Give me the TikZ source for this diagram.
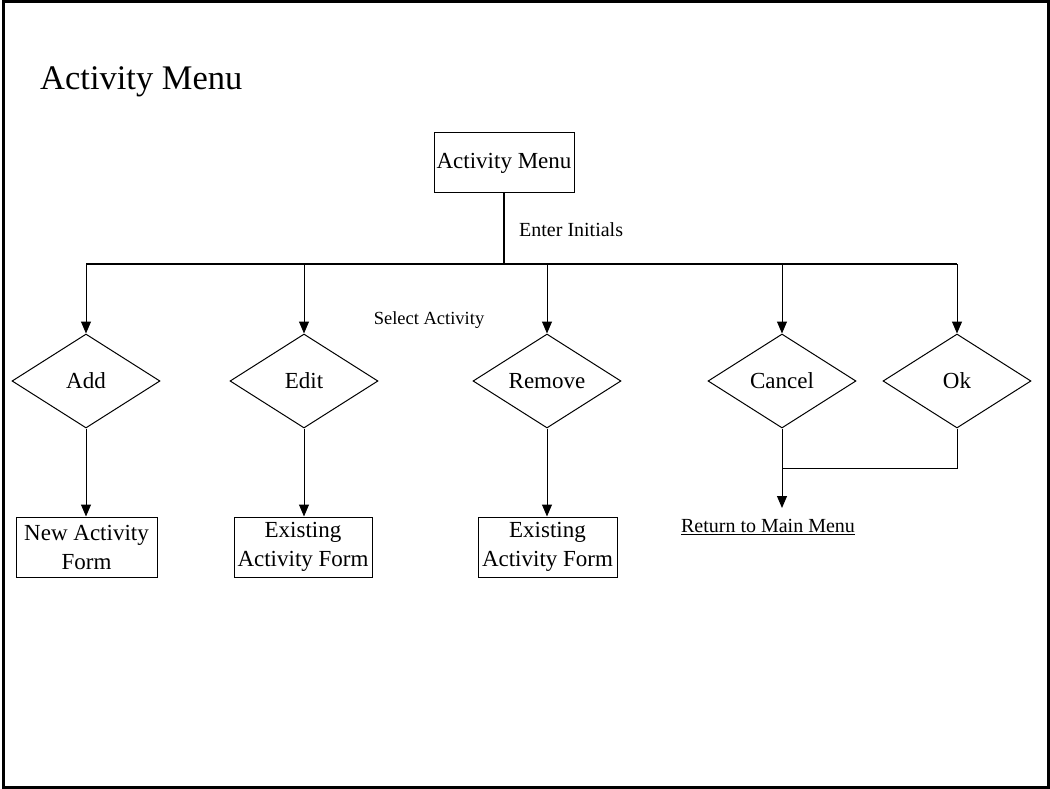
\documentclass[tikz,border=0pt]{standalone}
\usepackage{fontspec}
\setmainfont{Liberation Serif}
\usetikzlibrary{shapes.geometric,arrows.meta}
\tikzset{
  every picture/.style={x=1pt,y=-1pt},
  thin line/.style={line width=1pt},
  thick line/.style={line width=1.8pt},
  arr/.style={line width=1pt,-{Triangle[length=12pt,width=10pt]}},
  choice/.style={diamond,draw,line width=1pt,inner sep=0pt,minimum width=148pt,minimum height=94pt,
    font=\fontsize{23}{27}\selectfont},
  formbox/.style={rectangle,draw,line width=1pt,inner sep=0pt,minimum width=140pt,minimum height=60pt,
    align=center,font=\fontsize{23}{29}\selectfont},
  lbl/.style={inner sep=0pt,font=\fontsize{20}{24}\selectfont},
}
\begin{document}
\begin{tikzpicture}
\useasboundingbox (0,0) rectangle (1050,789);
\draw[line width=3pt] (3.5,2) rectangle (1048.5,787.5);

\node[anchor=west,inner sep=0pt,font=\fontsize{34.5}{40}\selectfont] (title) at (40,82) {Activity Menu};

\node[formbox,minimum width=140pt] (menu) at (504,163) {Activity Menu};

\node[choice] (add) at (86,381) {Add};
\node[choice] (edit) at (304,381) {Edit};
\node[choice] (remove) at (547,381) {Remove};
\node[choice] (cancel) at (782,381) {Cancel};
\node[choice] (ok) at (957,381) {Ok};

\node[formbox,minimum width=141pt] (newform) at (86.5,547) {New Activity\\Form};
\node[formbox,minimum width=138pt] (editform) at (303,547) {Existing\\Activity Form};
\node[formbox,minimum width=139pt] (removeform) at (547.5,547) {Existing\\Activity Form};

\node[lbl,anchor=west] (enter) at (519,230) {Enter Initials};
\node[lbl,font=\fontsize{18.5}{22}\selectfont] (select) at (429,320) {Select Activity};
\node[lbl] (ret) at (768,527) {\underline{Return to Main Menu}};

\coordinate (j) at (504,264);
\coordinate (m) at (782,468);
\coordinate (rtip) at (782,508);

\draw[thick line] (menu.south) -- (j);
\draw[thick line] (add.north |- j) -- (ok.north |- j);

\draw[arr] (add.north |- j) -- (add.north);
\draw[arr] (edit.north |- j) -- (edit.north);
\draw[arr] (remove.north |- j) -- (remove.north);
\draw[arr] (cancel.north |- j) -- (cancel.north);
\draw[arr] (ok.north |- j) -- (ok.north);

\draw[arr] (add.south) -- (newform.north -| add.south);
\draw[arr] (edit.south) -- (editform.north -| edit.south);
\draw[arr] (remove.south) -- (removeform.north -| remove.south);

\draw[thin line] (ok.south) |- (m);
\draw[arr] (cancel.south) -- (rtip);
\end{tikzpicture}
\end{document}
